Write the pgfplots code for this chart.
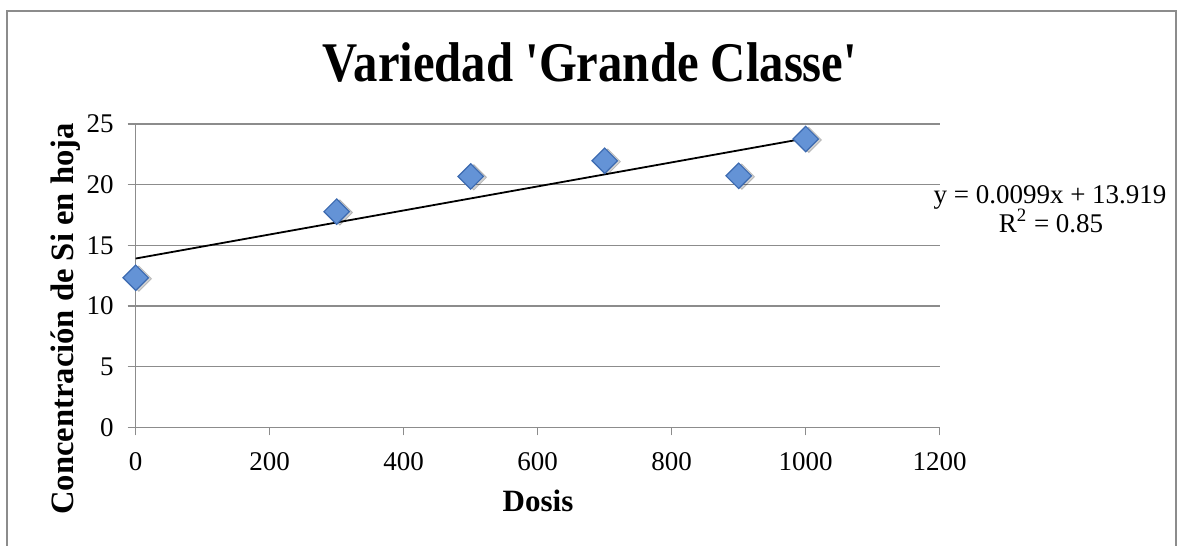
\documentclass[border=0pt]{standalone}
\usepackage{fontspec}
\setmainfont{Liberation Serif}
\newfontfamily\titlefont[FakeStretch=0.87]{Liberation Serif}
\usepackage{pgfplots}
\pgfplotsset{compat=1.18}
\definecolor{gridgray}{RGB}{140,140,140}
\definecolor{mkfill}{RGB}{100,147,214}
\definecolor{mkdraw}{RGB}{60,106,176}
\begin{document}
\begin{tikzpicture}
\path[use as bounding box] (0,0) rectangle (589pt,273pt);
\draw[gridgray, line width=0.7pt] (3.5pt,0) -- (3.5pt,267.5pt) -- (588pt,267.5pt) -- (588pt,0);
\begin{axis}[
  at={(67.85pt,59.25pt)}, anchor=south west,
  scale only axis, width=402pt, height=151.75pt,
  xmin=0, xmax=1200, ymin=0, ymax=25,
  xtick={0,200,...,1200}, ytick={0,5,...,25},
  axis lines*=left,
  axis line style={gridgray, line width=0.7pt},
  tick style={gridgray, line width=0.7pt},
  major tick length=4pt, tick align=outside,
  ymajorgrids, grid style={gridgray, line width=0.7pt},
  /pgf/number format/assume math mode=true,
  /pgf/number format/1000 sep={},
  tick label style={font=\fontsize{13.5}{16}\selectfont},
  xticklabel style={yshift=-5pt},
  yticklabel style={xshift=-3.5pt},
  clip=false,
]
% shadow
\addplot[only marks, mark=square*, mark size=4.5pt,
  mark options={rotate=45, fill=black, draw=none, opacity=0.18, xshift=0.8pt, yshift=-1.4pt}]
  coordinates {(0,12.33) (300,17.78) (500,20.68) (700,21.97) (900,20.73) (1000,23.76)};
\addplot[black, line width=0.9pt] coordinates {(0,13.919) (1000,23.819)};
\addplot[only marks, mark=square*, mark size=4.5pt,
  mark options={rotate=45, fill=mkfill, draw=mkdraw, line width=0.6pt}]
  coordinates {(0,12.33) (300,17.78) (500,20.68) (700,21.97) (900,20.73) (1000,23.76)};
\end{axis}
\node[anchor=base, font=\titlefont\bfseries\fontsize{28}{32}\selectfont] at (295pt,232pt) {Variedad 'Grande Classe'};
\node[anchor=base, font=\bfseries\fontsize{15.5}{18}\selectfont] at (269pt,17pt) {Dosis};
\node[anchor=base, rotate=90, font=\bfseries\fontsize{16.3}{19}\selectfont] at (36.5pt,113.5pt) {Concentración de Si en hoja};
\node[anchor=base, font=\fontsize{13.5}{16}\selectfont] at (525pt,171.35pt) {y = 0.0099x + 13.919};
\node[anchor=base, font=\fontsize{13.5}{16}\selectfont] at (525.5pt,156.85pt) {R\textsuperscript{2} = 0.85};
\end{tikzpicture}
\end{document}
